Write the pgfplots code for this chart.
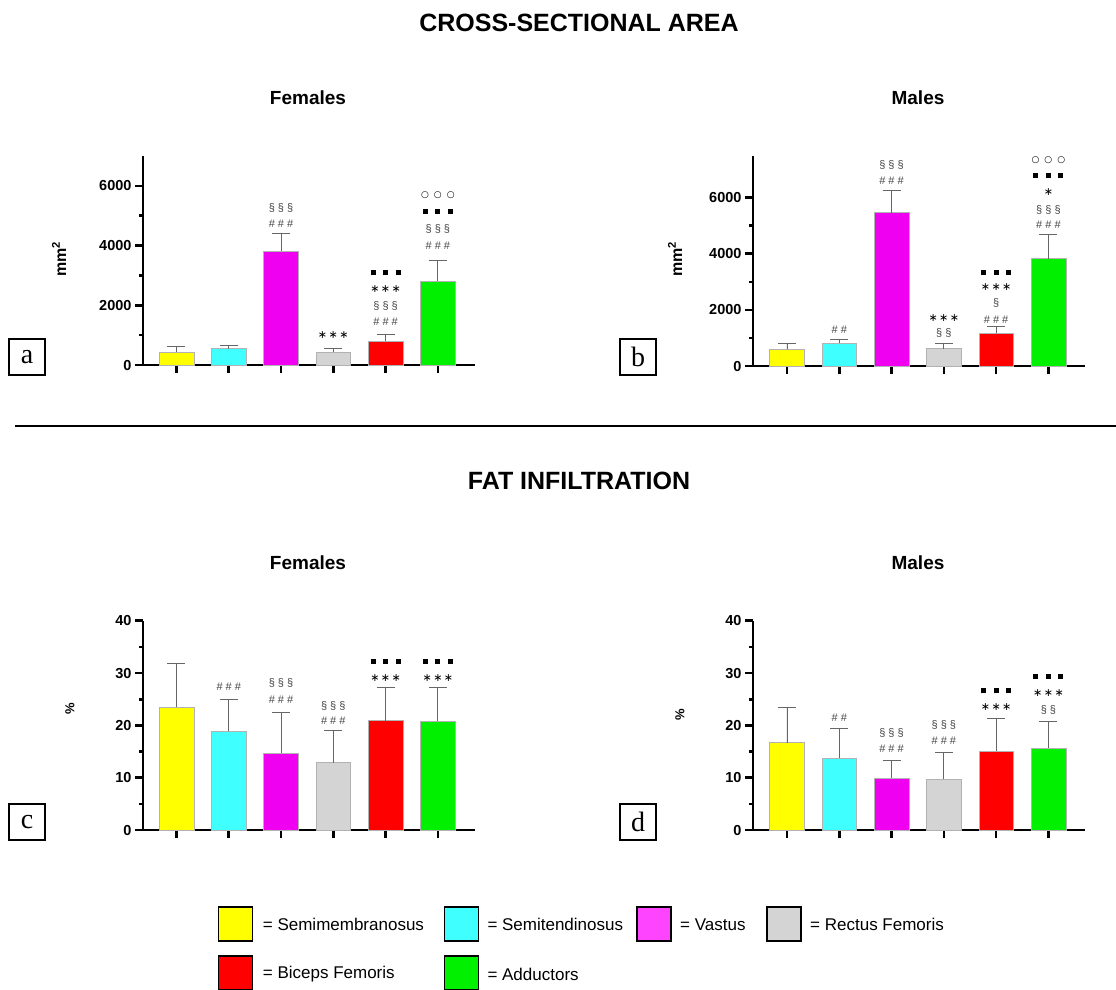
\documentclass[border=0pt]{standalone}
\usepackage{fontspec}
\setmainfont{Liberation Sans}
\newfontfamily\seriffont{Liberation Serif}
\newfontfamily\dejavu{DejaVu Sans}
\usepackage{pgfplots}
\pgfplotsset{compat=1.18}

\definecolor{cYel}{HTML}{FFFF00}
\definecolor{cCya}{HTML}{40FFFF}
\definecolor{cMag}{HTML}{F000F0}
\definecolor{cGry}{HTML}{D4D4D4}
\definecolor{cRed}{HTML}{FF0000}
\definecolor{cGrn}{HTML}{00F000}
\definecolor{lMag}{HTML}{FF44FF}
\definecolor{annc}{HTML}{444444}

\newcommand\fs[1]{\fontsize{#1}{#1}\selectfont}
\newcommand\sq{\rule{5pt}{5pt}}
\newcommand\SQ{\sq\hspace{7.5pt}\sq\hspace{7.5pt}\sq}
\newcommand\CI{{\dejavu\fs{9}○\hspace{5pt}○\hspace{5pt}○}}
\newcommand\ST{{\dejavu ∗\hspace{1.5pt}∗\hspace{1.5pt}∗}}
\newcommand\leg[1]{{\fs{17}= #1}}

\pgfplotsset{
  bp/.style={
    scale only axis, width=332pt,
    axis x line*=bottom, axis y line*=left,
    axis line style={line width=2.6pt, -},
    xmin=0.36, xmax=6.71, ymin=0,
    xtick={1,2,3,4,5,6}, xticklabels={},
    major tick length=8pt, minor tick length=4pt,
    every tick/.style={line width=2.6pt, black},
    tick align=outside,
    minor y tick num=1,
    yticklabel style={font=\bfseries\fs{14.5}},
    /pgf/number format/assume math mode=true,
    /pgf/number format/set thousands separator={},
    clip=false,
  },
  bb/.style={ybar, bar width=34.7pt, bar shift=0pt, draw=gray!60, line width=0.5pt,
    error bars/.cd, y dir=plus, y explicit,
    error bar style={gray!80!black, line width=0.8pt},
    error mark options={rotate=90, mark size=9pt, line width=0.8pt, gray!80!black}},
}
\tikzset{
  ann/.style={font=\fs{11}, text=annc, inner sep=0pt},
  blk/.style={font=\fs{11}, text=black, inner sep=0pt},
  lbox/.style={draw, line width=1.3pt, minimum width=36pt, minimum height=36pt, inner sep=0pt, font=\seriffont\fs{28}},
}

\begin{document}
\begin{tikzpicture}[x=1pt,y=1pt]
\useasboundingbox (0,0) rectangle (1116,-989);

% titles
\node[font=\bfseries\fs{25}] at (579,-23) {CROSS-SECTIONAL AREA};
\node[font=\bfseries\fs{25}] at (579,-481) {FAT INFILTRATION};
\node[font=\bfseries\fs{19}] at (308,-98) {Females};
\node[font=\bfseries\fs{19}] at (918,-98) {Males};
\node[font=\bfseries\fs{19}] at (308,-563) {Females};
\node[font=\bfseries\fs{19}] at (918,-563) {Males};
\draw[line width=2pt] (15,-426) -- (1116,-426);

% y labels
\node[rotate=90, font=\bfseries\fs{16}] at (59,-259) {mm\textsuperscript{2}};
\node[rotate=90, font=\bfseries\fs{16}] at (675,-259) {mm\textsuperscript{2}};
\node[rotate=90, font=\bfseries\fs{13}] at (70,-709) {\%};
\node[rotate=90, font=\bfseries\fs{13}] at (680,-715) {\%};

% panel letters
\node[lbox] at (27,-357) {a};
\node[lbox] at (638,-357) {b};
\node[lbox] at (27,-822) {c};
\node[lbox] at (638,-822) {d};

% ---------- panel a ----------
\begin{axis}[bp, at={(143pt,-365pt)}, anchor=south west, height=209pt,
  ymax=7000, ytick={0,2000,4000,6000}]
\addplot[fill=cYel, bb] coordinates {(1,435) +- (0,178)};
\addplot[fill=cCya, bb] coordinates {(2,546) +- (0,124)};
\addplot[fill=cMag, bb] coordinates {(3,3819) +- (0,593)};
\addplot[fill=cGry, bb] coordinates {(4,435) +- (0,124)};
\addplot[fill=cRed, bb] coordinates {(5,804) +- (0,224)};
\addplot[fill=cGrn, bb] coordinates {(6,2814) +- (0,680)};
\node[ann] at (axis cs:3,5270) {§ § §};
\node[ann] at (axis cs:3,4747) {\# \# \#};
\node[blk] at (axis cs:4,1005) {\ST};
\node[blk] at (axis cs:5,3082) {\SQ};
\node[blk] at (axis cs:5,2546) {\ST};
\node[ann] at (axis cs:5,1987) {§ § §};
\node[ann] at (axis cs:5,1451) {\# \# \#};
\node[blk] at (axis cs:6,5672) {\CI};
\node[blk] at (axis cs:6,5149) {\SQ};
\node[ann] at (axis cs:6,4546) {§ § §};
\node[ann] at (axis cs:6,3987) {\# \# \#};
\end{axis}

% ---------- panel b ----------
\begin{axis}[bp, at={(753pt,-366pt)}, anchor=south west, height=210.4pt,
  xmin=0.35, xmax=6.70,
  ymax=7500, ytick={0,2000,4000,6000}]
\addplot[fill=cYel, bb] coordinates {(1,595) +- (0,214)};
\addplot[fill=cCya, bb] coordinates {(2,809) +- (0,153)};
\addplot[fill=cMag, bb] coordinates {(3,5466) +- (0,797)};
\addplot[fill=cGry, bb] coordinates {(4,618) +- (0,191)};
\addplot[fill=cRed, bb] coordinates {(5,1165) +- (0,237)};
\addplot[fill=cGrn, bb] coordinates {(6,3825) +- (0,857)};
\node[ann] at (axis cs:2,1283) {\# \#};
\node[ann] at (axis cs:3,7166) {§ § §};
\node[ann] at (axis cs:3,6595) {\# \# \#};
\node[blk] at (axis cs:4,1700) {\ST};
\node[ann] at (axis cs:4,1166) {§ §};
\node[blk] at (axis cs:5,3340) {\SQ};
\node[blk] at (axis cs:5,2806) {\ST};
\node[ann] at (axis cs:5,2235) {§};
\node[ann] at (axis cs:5,1665) {\# \# \#};
\node[blk] at (axis cs:6,7344) {\CI};
\node[blk] at (axis cs:6,6774) {\SQ};
\node[blk] at (axis cs:6,6214) {{\dejavu ∗}};
\node[ann] at (axis cs:6,5561) {§ § §};
\node[ann] at (axis cs:6,5027) {\# \# \#};
\end{axis}

% ---------- panel c ----------
\begin{axis}[bp, at={(143pt,-830pt)}, anchor=south west, height=209.3pt,
  ymax=40, ytick={0,10,20,30,40}]
\addplot[fill=cYel, bb] coordinates {(1,23.5) +- (0,8.4)};
\addplot[fill=cCya, bb] coordinates {(2,18.9) +- (0,6.1)};
\addplot[fill=cMag, bb] coordinates {(3,14.7) +- (0,7.8)};
\addplot[fill=cGry, bb] coordinates {(4,12.9) +- (0,6.2)};
\addplot[fill=cRed, bb] coordinates {(5,20.9) +- (0,6.4)};
\addplot[fill=cGrn, bb] coordinates {(6,20.8) +- (0,6.4)};
\node[ann] at (axis cs:2,27.4) {\# \# \#};
\node[ann] at (axis cs:3,28.05) {§ § §};
\node[ann] at (axis cs:3,24.86) {\# \# \#};
\node[ann] at (axis cs:4,23.7) {§ § §};
\node[ann] at (axis cs:4,20.9) {\# \# \#};
\node[blk] at (axis cs:5,32.2) {\SQ};
\node[blk] at (axis cs:5,29.0) {\ST};
\node[blk] at (axis cs:6,32.2) {\SQ};
\node[blk] at (axis cs:6,29.0) {\ST};
\end{axis}

% ---------- panel d ----------
\begin{axis}[bp, at={(753pt,-830pt)}, anchor=south west, height=209.3pt,
  xmin=0.35, xmax=6.70,
  ymax=40, ytick={0,10,20,30,40}]
\addplot[fill=cYel, bb] coordinates {(1,16.7) +- (0,6.8)};
\addplot[fill=cCya, bb] coordinates {(2,13.7) +- (0,5.7)};
\addplot[fill=cMag, bb] coordinates {(3,9.9) +- (0,3.5)};
\addplot[fill=cGry, bb] coordinates {(4,9.75) +- (0,5.15)};
\addplot[fill=cRed, bb] coordinates {(5,15.1) +- (0,6.3)};
\addplot[fill=cGrn, bb] coordinates {(6,15.7) +- (0,5.0)};
\node[ann] at (axis cs:2,21.55) {\# \#};
\node[ann] at (axis cs:3,18.5) {§ § §};
\node[ann] at (axis cs:3,15.5) {\# \# \#};
\node[ann] at (axis cs:4,20.1) {§ § §};
\node[ann] at (axis cs:4,17.1) {\# \# \#};
\node[blk] at (axis cs:5,26.6) {\SQ};
\node[blk] at (axis cs:5,23.5) {\ST};
\node[blk] at (axis cs:6,29.4) {\SQ};
\node[blk] at (axis cs:6,26.25) {\ST};
\node[ann] at (axis cs:6,22.9) {§ §};
\end{axis}

% legend
\draw[line width=1.6pt, fill=cYel] (218.5,-906.7) rectangle (252.5,-940.7);
\node[anchor=west, inner sep=0pt] at (262.7,-924.3) {\leg{Semimembranosus}};
\draw[line width=1.6pt, fill=cCya] (444.3,-906.7) rectangle (478.3,-940.7);
\node[anchor=west, inner sep=0pt] at (487.3,-924.3) {\leg{Semitendinosus}};
\draw[line width=1.6pt, fill=lMag] (636.7,-906.7) rectangle (670.7,-940.7);
\node[anchor=west, inner sep=0pt] at (680,-924.3) {\leg{Vastus}};
\draw[line width=1.6pt, fill=cGry] (767,-906.7) rectangle (801,-940.7);
\node[anchor=west, inner sep=0pt] at (810,-924.3) {\leg{Rectus Femoris}};
\draw[line width=1.6pt, fill=cRed] (218.5,-956) rectangle (252.5,-990);
\node[anchor=west, inner sep=0pt] at (262.7,-974) {\leg{Biceps Femoris}};
\draw[line width=1.6pt, fill=cGrn] (444.3,-956) rectangle (478.3,-990);
\node[anchor=west, inner sep=0pt] at (487.3,-974) {\leg{Adductors}};
\end{tikzpicture}
\end{document}
